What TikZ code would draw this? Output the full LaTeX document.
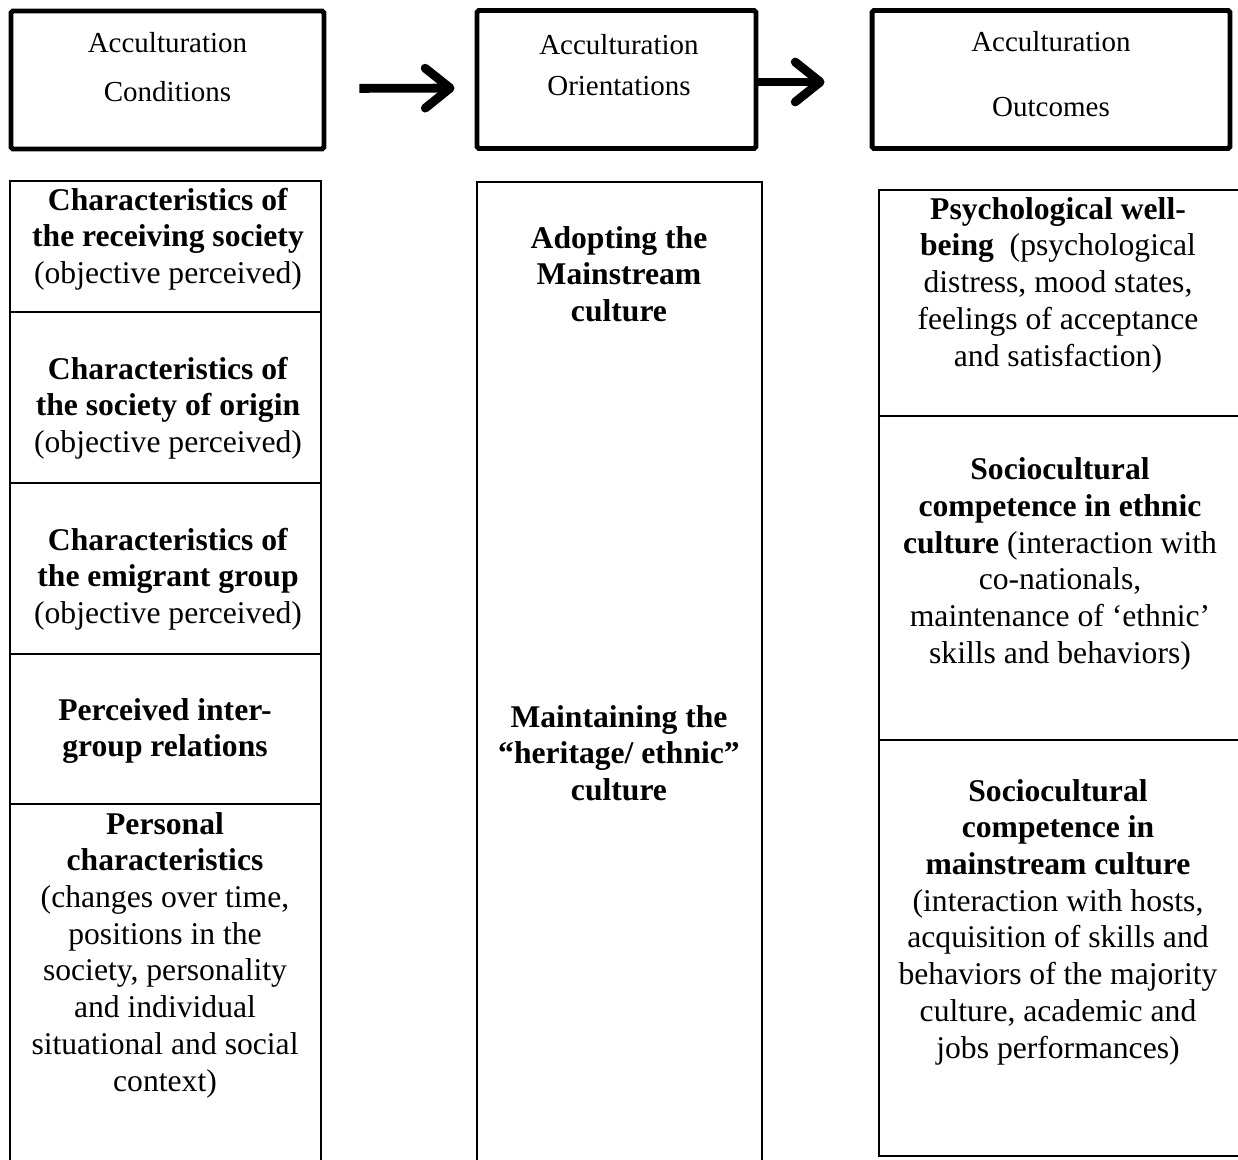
\documentclass[tikz,border=0pt]{standalone}
\usepackage{fontspec}
\setmainfont{Liberation Serif}
\usetikzlibrary{arrows.meta, positioning}

\begin{document}
\begin{tikzpicture}[
    x=0.02cm, y=-0.02cm,
    topbox/.style={rectangle, draw, line width=2.8pt, rounded corners=1pt, minimum height=2.76cm},
    toptext/.style={align=center, font=\fontsize{16.5}{19}\selectfont, inner sep=0pt},
    cell/.style={rectangle, draw, line width=1.3pt, inner sep=0pt},
    celltext/.style={align=center, font=\fontsize{18}{20.9}\selectfont, inner sep=0pt},
    bigarrow/.style={line width=5pt, -{Straight Barb[length=0.5cm, width=0.8cm, round]}}
]
    \clip (0,0) rectangle (1238,1160);

    % Top boxes
    \node (cond) [topbox, minimum width=6.26cm] at (167.5,80) {};
    \node (orient) [topbox, minimum width=5.58cm] at (616.5,79.5) {};
    \node (outcome) [topbox, minimum width=7.16cm] at (1051,79.5) {};

    \node (condtxt) [toptext] at (167.5,67) {Acculturation\\[9pt]Conditions};
    \node (orienttxt) [toptext] at (619,65) {Acculturation\\[4pt]Orientations};
    \node (outcometxt) [toptext] at (1051,74) {Acculturation\\[18pt]Outcomes};

    % Arrows between the top boxes
    \draw[bigarrow, shorten <=0.66cm, shorten >=0.4cm] ([yshift=-0.17cm]cond.east) -- ([yshift=-0.17cm]orient.west);
    \draw[bigarrow, shorten >=0.9cm] ([yshift=-0.05cm]orient.east) -- ([yshift=-0.05cm]outcome.west);

    % Conditions column
    \node (recvcell) [cell, minimum width=6.22cm, minimum height=2.62cm] at (165.5,246.5) {};
    \node (origcell) [cell, minimum width=6.22cm, minimum height=3.42cm] at (165.5,397.5) {};
    \node (emigcell) [cell, minimum width=6.22cm, minimum height=3.42cm] at (165.5,568.5) {};
    \node (intercell) [cell, minimum width=6.22cm, minimum height=3.0cm] at (165.5,729) {};
    \node (perscell) [cell, minimum width=6.22cm, minimum height=7.52cm] at (165.5,992) {};

    \node (recv) [celltext] at (168,239) {\textbf{Characteristics of}\\\textbf{the receiving society}\\(objective perceived)};
    \node (orig) [celltext] at (168,408) {\textbf{Characteristics of}\\\textbf{the society of origin}\\(objective perceived)};
    \node (emig) [celltext] at (168,579) {\textbf{Characteristics of}\\\textbf{the emigrant group}\\(objective perceived)};
    \node (inter) [celltext] at (165,731) {\textbf{Perceived inter-}\\\textbf{group relations}};
    \node (pers) [celltext] at (165,955) {\textbf{Personal}\\\textbf{characteristics}\\(changes over time,\\positions in the\\society, personality\\and individual\\situational and social\\context)};

    % Orientations column
    \node (orientcell) [cell, minimum width=5.7cm, minimum height=19.96cm] at (619.5,681) {};

    \node (adopt) [celltext] at (619,274) {\textbf{Adopting the}\\\textbf{Mainstream}\\\textbf{culture}};
    \node (maintain) [celltext] at (619,753) {\textbf{Maintaining the}\\\textbf{“heritage/ ethnic”}\\\textbf{culture}};

    % Outcomes column
    \node (psychcell) [cell, minimum width=7.42cm, minimum height=4.52cm] at (1064.5,303) {};
    \node (ethniccell) [cell, minimum width=7.42cm, minimum height=6.48cm] at (1064.5,578) {};
    \node (maincell) [cell, minimum width=7.42cm, minimum height=8.32cm] at (1064.5,948) {};

    \node (psych) [celltext] at (1058,285) {\textbf{Psychological well-}\\\textbf{being}\ \ (psychological\\distress, mood states,\\feelings of acceptance\\and satisfaction)};
    \node (ethnic) [celltext] at (1060,564) {\textbf{Sociocultural}\\\textbf{competence in ethnic}\\\textbf{culture} (interaction with\\co-nationals,\\maintenance of ‘ethnic’\\skills and behaviors)};
    \node (mainstr) [celltext] at (1058,922) {\textbf{Sociocultural}\\\textbf{competence in}\\\textbf{mainstream culture}\\(interaction with hosts,\\acquisition of skills and\\behaviors of the majority\\culture, academic and\\jobs performances)};
\end{tikzpicture}
\end{document}
